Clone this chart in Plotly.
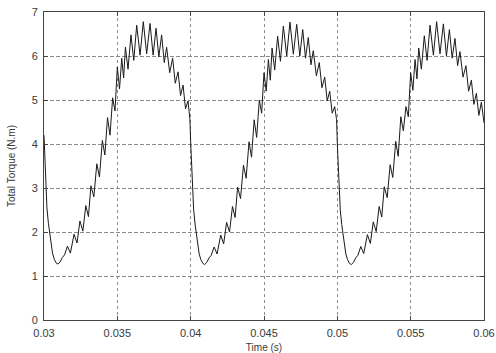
import plotly.graph_objects as go

# Sample instants inside one electrical cycle, in milliseconds from the cycle start
sample_offsets_ms = [
    0.00, 0.06, 0.12, 0.20, 0.30, 0.38, 0.48, 0.58, 0.70, 0.82, 0.95, 1.10, 1.25, 1.40,
    1.60, 1.80, 2.05, 2.25, 2.45, 2.65, 2.85, 3.03, 3.20, 3.40, 3.60, 3.78, 3.98, 4.15,
    4.33, 4.50, 4.68, 4.84, 5.00, 5.15, 5.30, 5.43, 5.55, 5.73, 5.93, 6.12, 6.32, 6.55,
    6.77, 7.00, 7.23, 7.44, 7.64, 7.83, 8.02, 8.20, 8.36, 8.57, 8.77, 8.95, 9.14, 9.31,
    9.48, 9.65, 9.82, 9.95,
]

cycle_starts_s = [0.03, 0.04, 0.05]

# Total torque (N.m) for each of the three cycles
torque_cycle_1 = [
    4.20, 3.55, 3.00, 2.55, 2.20, 1.98, 1.72, 1.52, 1.38, 1.30, 1.27, 1.32, 1.42, 1.48,
    1.68, 1.52, 1.95, 1.75, 2.25, 2.02, 2.60, 2.35, 3.05, 2.80, 3.55, 3.25, 4.08, 3.75,
    4.60, 4.20, 5.05, 4.75, 5.75, 5.25, 5.95, 5.50, 6.20, 5.70, 6.48, 5.90, 6.70, 6.02,
    6.78, 6.05, 6.74, 6.02, 6.63, 5.98, 6.48, 5.85, 6.20, 5.62, 5.95, 5.38, 5.64, 5.10,
    5.34, 4.80, 4.98, 4.55,
]
torque_cycle_2 = [
    4.05, 3.50, 3.00, 2.52, 2.18, 1.96, 1.70, 1.50, 1.37, 1.29, 1.26, 1.31, 1.41, 1.47,
    1.66, 1.50, 1.93, 1.73, 2.22, 2.00, 2.58, 2.33, 3.02, 2.76, 3.52, 3.22, 4.05, 3.70,
    4.55, 4.15, 5.00, 4.70, 5.62, 5.20, 5.92, 5.45, 6.18, 5.68, 6.45, 5.88, 6.68, 6.00,
    6.77, 6.04, 6.72, 6.00, 6.60, 5.95, 6.42, 5.80, 6.12, 5.55, 5.85, 5.28, 5.52, 4.98,
    5.20, 4.70, 4.85, 4.55,
]
torque_cycle_3 = [
    4.00, 3.48, 2.98, 2.50, 2.17, 1.95, 1.70, 1.50, 1.37, 1.29, 1.26, 1.31, 1.41, 1.47,
    1.67, 1.51, 1.94, 1.74, 2.23, 2.01, 2.58, 2.34, 3.03, 2.78, 3.53, 3.24, 4.06, 3.72,
    4.62, 4.30, 4.85, 4.62, 5.62, 5.22, 5.92, 5.48, 6.18, 5.70, 6.46, 5.90, 6.70, 6.02,
    6.78, 6.05, 6.73, 6.00, 6.60, 5.95, 6.40, 5.78, 6.10, 5.52, 5.78, 5.20, 5.45, 4.90,
    5.15, 4.65, 4.95, 4.62,
]
final_time_s = 0.06
final_torque = 4.48

x_tick_values = [0.03, 0.035, 0.04, 0.045, 0.05, 0.055, 0.06]
x_tick_labels = ["0.03", "0.035", "0.04", "0.045", "0.05", "0.055", "0.06"]
y_tick_values = [0, 1, 2, 3, 4, 5, 6, 7]

time_s = []
torque = []
for start, cycle in zip(cycle_starts_s, [torque_cycle_1, torque_cycle_2, torque_cycle_3]):
    time_s += [start + off / 1000.0 for off in sample_offsets_ms]
    torque += cycle
time_s.append(final_time_s)
torque.append(final_torque)

font_family = "Liberation Sans, Arial, sans-serif"
text_color = "#3a3a3a"

fig = go.Figure(
    go.Scatter(
        x=time_s,
        y=torque,
        mode="lines",
        line=dict(color="#1a1a1a", width=1),
        hoverinfo="skip",
    )
)

axis_common = dict(
    showline=True,
    linecolor="#444444",
    linewidth=1,
    mirror="ticks",
    ticks="inside",
    ticklen=4,
    tickcolor="#444444",
    showgrid=True,
    gridcolor="#8a8a8a",
    gridwidth=1,
    zeroline=False,
    automargin=False,
    tickfont=dict(family=font_family, size=11, color=text_color),
)

fig.update_xaxes(
    **axis_common,
    range=[0.03, 0.06],
    tickvals=x_tick_values,
    ticktext=x_tick_labels,
    griddash="dot",
    ticklabelstandoff=3,
    title=dict(text="Time (s)", font=dict(family=font_family, size=10, color=text_color), standoff=8),
)
fig.update_yaxes(
    **axis_common,
    range=[0, 7],
    tickvals=y_tick_values,
    griddash="4px,2px",
    ticklabelstandoff=3,
    title=dict(text="Total Torque (N.m)", font=dict(family=font_family, size=10, color=text_color), standoff=14),
)

fig.update_layout(
    width=496,
    height=353,
    margin=dict(l=44, r=12, t=12, b=33),
    paper_bgcolor="white",
    plot_bgcolor="white",
    showlegend=False,
)

fig.write_html("out.html")
